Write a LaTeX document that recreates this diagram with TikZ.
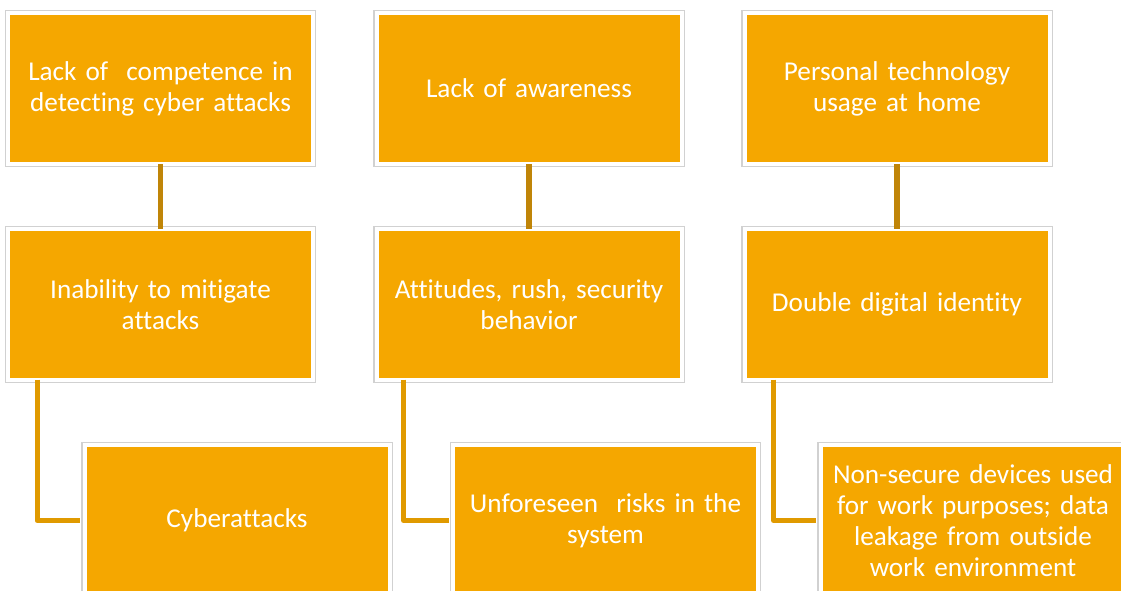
\documentclass[tikz,border=0pt]{standalone}
\usepackage{fontspec}
\setmainfont{Carlito}[Ligatures={NoCommon}]
\definecolor{boxfill}{HTML}{F5A700}
\definecolor{stemline}{HTML}{C08508}
\definecolor{elbowline}{HTML}{E09A00}
\tikzset{
  card/.style={rectangle, inner sep=0pt, minimum width=305pt, minimum height=151pt,
    fill=boxfill, draw=white, line width=4pt,
    preaction={draw=black!18, line width=6.5pt},
    text=white, text width=295pt, align=center,
    font=\fontsize{27.2}{31}\selectfont},
  stem/.style={draw=stemline, line width=5.5pt},
  elbow/.style={draw=elbowline, line width=5pt, line join=round},
}
\begin{document}
\begin{tikzpicture}[x=1pt,y=-1pt]
\useasboundingbox (0,0) rectangle (1121,590);
\clip (0,0) rectangle (1121,590);
\fill[white] (0,0) rectangle (1121,590);

% top row
\node[card] (a1) at (160.5,88.5) {Lack of~ competence in\\detecting cyber attacks};
\node[card] (a2) at (529,88.5) {Lack of awareness};
\node[card] (a3) at (897,88.5) {Personal technology\\usage at home};

% middle row
\node[card] (b1) at (160.5,304.5) {Inability to mitigate\\attacks};
\node[card] (b2) at (529,304.5) {Attitudes, rush, security\\behavior};
\node[card] (b3) at (897,304.5) {Double digital identity};

% bottom row
\node[card] (c1) at (237,520.5) {Cyberattacks};
\node[card] (c2) at (605.5,520.5) {Unforeseen~ risks in the\\system};
\node[card] (c3) at (973,520.5) {Non-secure devices used\\for work purposes; data\\leakage from outside\\work environment};

% vertical links between top and middle rows
\draw[stem] ([yshift=2pt]a1.south) -- ([yshift=-2pt]b1.north);
\draw[stem] ([yshift=2pt]a2.south) -- ([yshift=-2pt]b2.north);
\draw[stem] ([yshift=2pt]a3.south) -- ([yshift=-2pt]b3.north);

% elbow links from middle row to bottom row
\draw[elbow] ([xshift=31pt,yshift=2.5pt]b1.south west) |- ([xshift=-2.5pt]c1.west);
\draw[elbow] ([xshift=29pt,yshift=2.5pt]b2.south west) |- ([xshift=-2.5pt]c2.west);
\draw[elbow] ([xshift=31pt,yshift=2.5pt]b3.south west) |- ([xshift=-2.5pt]c3.west);
\end{tikzpicture}
\end{document}
